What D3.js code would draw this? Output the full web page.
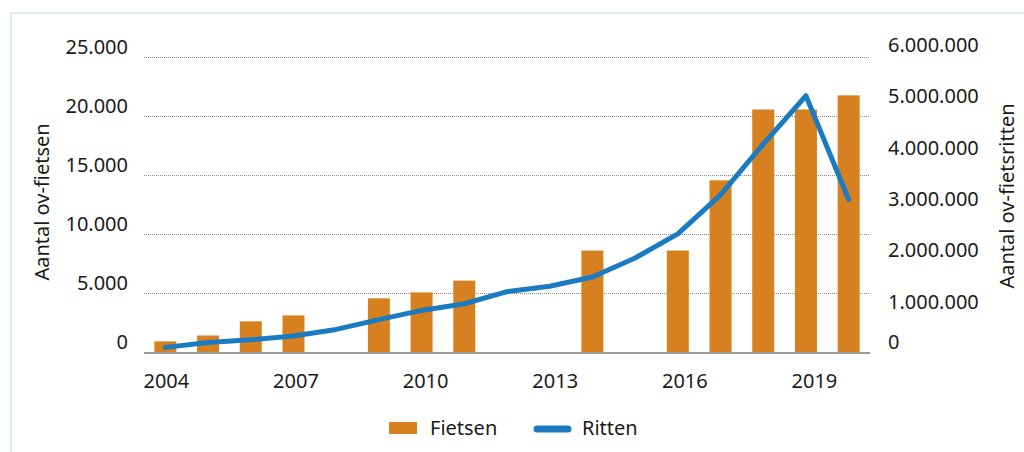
<!DOCTYPE html>
<html>
<head>
<meta charset="utf-8">
<script src="https://cdnjs.cloudflare.com/ajax/libs/d3/7.8.5/d3.min.js"></script>
<style>
  body { margin: 0; background: #fff; }
  text { font-family: "Noto Sans", sans-serif; fill: #1a1a1a; }
</style>
</head>
<body>
<div id="chart"></div>
<script>
var years = [2004, 2005, 2006, 2007, 2008, 2009, 2010, 2011, 2012, 2013, 2014, 2015, 2016, 2017, 2018, 2019, 2020];
var fietsen = [900, 1400, 2600, 3100, 0, 4550, 5050, 6050, 0, 0, 8600, 0, 8600, 14550, 20550, 20550, 21750];
var ritten = [90000, 185000, 240000, 310000, 440000, 630000, 810000, 940000, 1175000, 1280000, 1460000, 1830000, 2300000, 3060000, 4050000, 4990000, 2970000];
var yearLabels = [2004, 2007, 2010, 2013, 2016, 2019];
var leftTicks = [0, 5000, 10000, 15000, 20000, 25000];
var rightTicks = [0, 1000000, 2000000, 3000000, 4000000, 5000000, 6000000];

var width = 1024, height = 452;
var margin = {left: 144, right: 154, top: 57, bottom: 100};
var fmt = function(v) { return d3.format(",")(v).replace(/,/g, "."); };

var svg = d3.select("#chart").append("svg")
  .attr("width", width)
  .attr("height", height);

// light blue frame (only top and left edges visible)
svg.append("rect")
  .attr("x", 11).attr("y", 13)
  .attr("width", 1100).attr("height", 600)
  .attr("fill", "none")
  .attr("stroke", "#ddeaf7")
  .attr("stroke-width", 2);

var x = d3.scaleBand()
  .domain(years)
  .range([margin.left, width - margin.right])
  .paddingInner(0.485)
  .paddingOuter(0.2425);

var yL = d3.scaleLinear()
  .domain([0, 25000])
  .range([height - margin.bottom, margin.top]);

// right axis: 0..5.745M over the same pixel span
var yR = d3.scaleLinear()
  .domain([0, 5745000])
  .range([height - margin.bottom, margin.top]);

// gridlines
svg.append("g")
  .selectAll("line")
  .data(leftTicks.slice(1))
  .enter()
  .append("line")
  .attr("x1", margin.left)
  .attr("x2", width - margin.right)
  .attr("y1", function(d) { return yL(d) + 0.5; })
  .attr("y2", function(d) { return yL(d) + 0.5; })
  .attr("stroke", "#8a8a8a")
  .attr("stroke-width", 1)
  .attr("stroke-dasharray", "1,1");

// bars
svg.append("g")
  .selectAll("rect")
  .data(years)
  .enter()
  .append("rect")
  .attr("x", function(d) { return x(d); })
  .attr("width", x.bandwidth())
  .attr("y", function(d, i) { return yL(fietsen[i]); })
  .attr("height", function(d, i) { return yL(0) - yL(fietsen[i]); })
  .attr("fill", "#d68020");

// baseline
svg.append("line")
  .attr("x1", margin.left)
  .attr("x2", width - margin.right)
  .attr("y1", yL(0) + 1)
  .attr("y2", yL(0) + 1)
  .attr("stroke", "#9c9c9c")
  .attr("stroke-width", 2);

// line
var line = d3.line()
  .x(function(d, i) { return x(years[i]) + x.bandwidth() / 2; })
  .y(function(d) { return yR(d); });

svg.append("path")
  .datum(ritten)
  .attr("d", line)
  .attr("fill", "none")
  .attr("stroke", "#1b7bc0")
  .attr("stroke-width", 5)
  .attr("stroke-linecap", "round")
  .attr("stroke-linejoin", "round");

// left axis labels
svg.append("g")
  .selectAll("text")
  .data(leftTicks)
  .enter()
  .append("text")
  .attr("x", 128)
  .attr("y", function(d) { return yL(d) - 3; })
  .attr("text-anchor", "end")
  .style("font-size", "20px")
  .text(function(d) { return fmt(d); });

// right axis labels (0 sits level with the left 0)
svg.append("g")
  .selectAll("text")
  .data(rightTicks)
  .enter()
  .append("text")
  .attr("x", 888)
  .attr("y", function(d) { return d === 0 ? yL(0) - 3 : yR(d) + 8; })
  .attr("text-anchor", "start")
  .style("font-size", "20px")
  .text(function(d) { return fmt(d); });

// year labels
svg.append("g")
  .selectAll("text")
  .data(yearLabels)
  .enter()
  .append("text")
  .attr("x", function(d, i) { return x(d) + x.bandwidth() / 2 + 1 + i * 1.5; })
  .attr("y", 388)
  .attr("text-anchor", "middle")
  .style("font-size", "20px")
  .text(function(d) { return d; });

// axis titles
svg.append("text")
  .attr("transform", "translate(49,202) rotate(-90)")
  .attr("text-anchor", "middle")
  .style("font-size", "20px")
  .text("Aantal ov-fietsen");

svg.append("text")
  .attr("transform", "translate(1014,196) rotate(-90)")
  .attr("text-anchor", "middle")
  .style("font-size", "20px")
  .text("Aantal ov-fietsritten");

// legend
var legend = svg.append("g");
legend.append("rect")
  .attr("x", 389).attr("y", 422)
  .attr("width", 28).attr("height", 12)
  .attr("fill", "#d68020");
legend.append("text")
  .attr("x", 430).attr("y", 435)
  .style("font-size", "20px")
  .text("Fietsen");
legend.append("line")
  .attr("x1", 537).attr("x2", 568)
  .attr("y1", 429).attr("y2", 429)
  .attr("stroke", "#1b7bc0")
  .attr("stroke-width", 7)
  .attr("stroke-linecap", "round");
legend.append("text")
  .attr("x", 582).attr("y", 435)
  .style("font-size", "20px")
  .text("Ritten");
</script>
</body>
</html>
